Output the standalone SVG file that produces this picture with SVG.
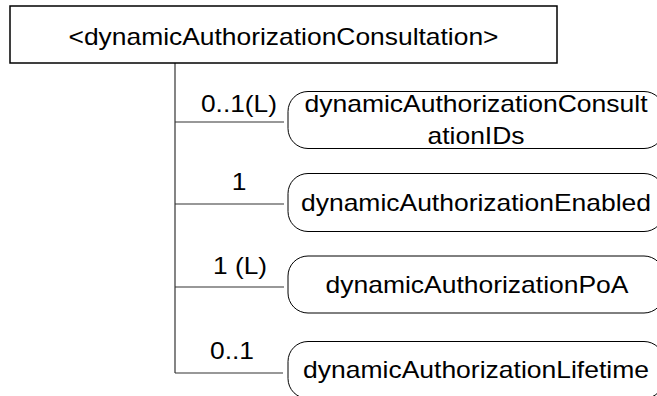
<svg xmlns="http://www.w3.org/2000/svg" width="657" height="396" viewBox="0 0 657 396">
<style>
text{font-family:"Liberation Sans",Arial,sans-serif;font-size:24px;fill:#000;text-anchor:middle}
.root{fill:#fff;stroke:#000;stroke-width:1.5}
.child{fill:#fff;stroke:#000;stroke-width:1}
.conn{stroke:#333;stroke-width:1.2;fill:none}
</style>
<rect width="657" height="396" fill="#fff"/>
<g id="connectors">
<line class="conn" x1="175" y1="63" x2="175" y2="373"/>
<line class="conn" x1="175" y1="122" x2="284" y2="122"/>
<line class="conn" x1="175" y1="204" x2="284" y2="204"/>
<line class="conn" x1="175" y1="287" x2="284" y2="287"/>
<line class="conn" x1="175" y1="373" x2="283" y2="373"/>
<text x="239" y="112" textLength="76" lengthAdjust="spacingAndGlyphs">0..1(L)</text>
<text x="239" y="190" textLength="14.7" lengthAdjust="spacingAndGlyphs">1</text>
<text x="240" y="274" textLength="54" lengthAdjust="spacingAndGlyphs">1 (L)</text>
<text x="232" y="359" textLength="44" lengthAdjust="spacingAndGlyphs">0..1</text>
</g>
<g id="root">
<rect class="root" x="10" y="6" width="547" height="57"/>
<text x="283.5" y="45" textLength="430" lengthAdjust="spacingAndGlyphs">&lt;dynamicAuthorizationConsultation&gt;</text>
</g>
<g id="node-ids">
<rect class="child" x="288" y="91.5" width="376" height="57" rx="20" ry="20"/>
<text x="476" y="112" textLength="343" lengthAdjust="spacingAndGlyphs">dynamicAuthorizationConsult</text>
<text x="476" y="143.5" textLength="97" lengthAdjust="spacingAndGlyphs">ationIDs</text>
</g>
<g id="node-enabled">
<rect class="child" x="288" y="173.5" width="376" height="58" rx="20" ry="20"/>
<text x="476" y="211" textLength="350" lengthAdjust="spacingAndGlyphs">dynamicAuthorizationEnabled</text>
</g>
<g id="node-poa">
<rect class="child" x="288" y="256" width="376" height="57" rx="20" ry="20"/>
<text x="477" y="292.5" textLength="303" lengthAdjust="spacingAndGlyphs">dynamicAuthorizationPoA</text>
</g>
<g id="node-lifetime">
<rect class="child" x="288" y="341.5" width="376" height="57" rx="20" ry="20"/>
<text x="476" y="377.5" textLength="346" lengthAdjust="spacingAndGlyphs">dynamicAuthorizationLifetime</text>
</g>
</svg>
